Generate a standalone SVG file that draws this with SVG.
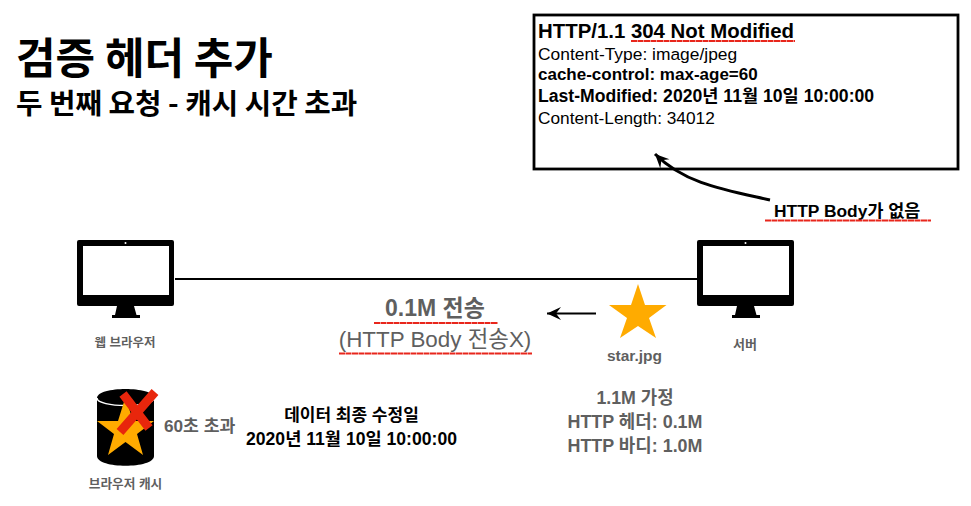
<svg xmlns="http://www.w3.org/2000/svg" width="971" height="506" viewBox="0 0 971 506">
<style>
text{font-family:"Liberation Sans","Noto Sans CJK KR",sans-serif;fill:#000}
.b{font-weight:700}
.c{text-anchor:middle}
.g{fill:#5f5f5f}
.ko{font-family:"Noto Sans CJK KR",sans-serif}
.red{fill:none;stroke:#e8261c;stroke-width:2.2;stroke-dasharray:6 .5}
.ln{fill:none;stroke:#000;stroke-width:2}
.star{fill:#ffab00}
</style>
<defs>
<g id="monitor">
<path d="M2 0H95a2 2 0 0 1 2 2V64a2 2 0 0 1-2 2H2a2 2 0 0 1-2-2V2a2 2 0 0 1 2-2ZM6 6V55H92V6Z" fill="#000" fill-rule="evenodd"/>
<path d="M40 66H57L59.500 75H63V78H35V75H38Z" fill="#000"/>
<circle cx="48.500" cy="3" r="1" fill="#fff"/>
</g>
<marker id="open" markerUnits="userSpaceOnUse" markerWidth="18" markerHeight="18" refX="16" refY="9" orient="auto">
<path d="M2 2.500 16 9 2 15.500 7 9Z" fill="#000"/>
</marker>
</defs>
<g id="title">
<text class="ko" x="16" y="74" font-size="43" font-weight="700">검증 헤더 추가</text>
<text class="ko" x="16" y="114" font-size="28.800" font-weight="700">두 번째 요청 - 캐시 시간 초과</text>
</g>
<g id="response">
<rect x="534" y="15" width="424" height="154" fill="#fff" stroke="#000" stroke-width="2.800"/>
<text class="b" x="538" y="38" font-size="20.400">HTTP/1.1 304 Not Modified</text>
<path class="red" d="M631 41H795"/>
<text x="538" y="60" font-size="17.400">Content-Type: image/jpeg</text>
<text class="b" x="538" y="80" font-size="17">cache-control: max-age=60</text>
<text class="b" x="538" y="102" font-size="17.600">Last-Modified: 2020년 11월 10일 10:00:00</text>
<text x="538" y="124" font-size="17.300">Content-Length: 34012</text>
</g>
<g id="connectors">
<path class="ln" d="M175 279H697"/>
<path class="ln" d="M596 313.500H547" marker-end="url(#open)"/>
<path d="M770 200C725 190 685 184 655 154" fill="none" stroke="#000" stroke-width="3" marker-end="url(#open)"/>
</g>
<g id="body-note">
<text class="b" x="774" y="217" font-size="17.400">HTTP Body가 없음</text>
<path class="red" d="M765 220.500H931"/>
</g>
<g id="browser">
<use href="#monitor" x="77" y="240"/>
<text class="c b g" x="125" y="347" font-size="12.500">웹 브라우저</text>
</g>
<g id="server">
<use href="#monitor" x="697" y="240"/>
<text class="c b g" x="745" y="349" font-size="13">서버</text>
</g>
<g id="transfer">
<text class="c b g" x="435" y="316" font-size="23">0.1M 전송</text>
<path class="red" d="M374 323H498"/>
<text class="c g" x="435" y="347" font-size="22.400">(HTTP Body 전송X)</text>
<path class="red" d="M339 353.500H532"/>
</g>
<g id="star">
<path class="star" d="M638 284 645 305H666.500L649 318 656 338 638 326 620 338 627 318 609 305H631Z"/>
<text class="c b g" x="634.500" y="361" font-size="15.500">star.jpg</text>
</g>
<g id="size-note">
<text class="c b g" x="635" y="404" font-size="17.800">1.1M 가정</text>
<text class="c b g" x="635" y="428" font-size="17.900">HTTP 헤더: 0.1M</text>
<text class="c b g" x="635" y="452" font-size="17.900">HTTP 바디: 1.0M</text>
</g>
<g id="cache">
<path d="M97 398C97 386 154 386 154 398V456C154 469 97 469 97 456Z" fill="#000"/>
<path d="M97 398C97 408 154 408 154 398" fill="none" stroke="#fff" stroke-width="1.500"/>
<path class="star" d="M125.500 397 133 421H154L137 434 143 455 125.500 442 108 455 114 434 97 421H118Z"/>
<path d="M123 394 149 428M155 392 120 432" fill="none" stroke="#e8260c" stroke-width="9"/>
<text class="c b g" x="125.500" y="488" font-size="12.700">브라우저 캐시</text>
</g>
<g id="cache-note">
<text class="b g" x="164" y="432" font-size="17.200">60초 초과</text>
</g>
<g id="date-note">
<text class="c b" x="351.500" y="421" font-size="17">데이터 최종 수정일</text>
<text class="c b" x="351.500" y="445" font-size="17.600">2020년 11월 10일 10:00:00</text>
</g>
</svg>
